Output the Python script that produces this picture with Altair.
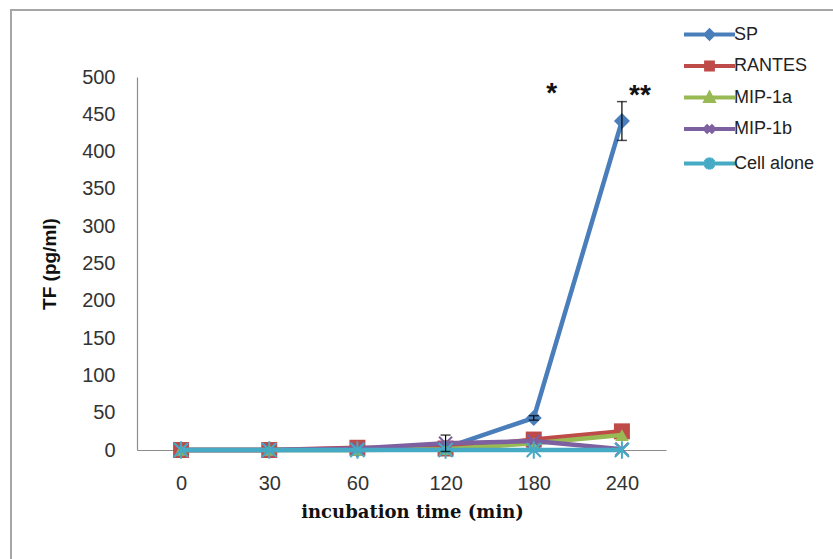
import altair as alt
import pandas as pd

# ---- data ----
times = ["0", "30", "60", "120", "180", "240"]
series = ["SP", "RANTES", "MIP-1a", "MIP-1b", "Cell alone"]
sp = [0, 0, 0, 3, 43, 441]
rantes = [0, 0, 3, 2, 14, 25]
mip1a = [0, 0, 0, 1, 9, 20]
mip1b = [0, 0, 2, 9, 12, 1]
cell = [0, 0, 0, 0, 0, 0]

err_series = ["SP", "SP", "MIP-1b"]
err_time = ["180", "240", "120"]
err_value = [43, 441, 9]
err_size = [3, 26, 11]

ann_text = ["*", "**"]
ann_time = ["180", "240"]
ann_value = [482, 480]

y_ticks = list(range(0, 501, 50))

# ---- styles ----
colors = ["#4A7EBB", "#BE4B48", "#98B954", "#7D60A0", "#46AAC5"]
X_PATH = "M-1,-1L1,1M1,-1L-1,1"
STAR_PATH = "M-1,-1L1,1M1,-1L-1,1M0,-1.25L0,1.25"
marker_style = [
    dict(shape="diamond", filled=True, size=256, strokeWidth=0),
    dict(shape="square", filled=True, size=256, strokeWidth=0),
    dict(shape="triangle-up", filled=True, size=180, strokeWidth=0),
    dict(shape=X_PATH, filled=False, size=170, strokeWidth=2),
    dict(shape=STAR_PATH, filled=False, size=200, strokeWidth=2),
]
L = "M-3,0L3,0"
legend_paths = [
    L + "M0,-0.45L0.45,0L0,0.45L-0.45,0Z",
    L + "M-0.4,-0.4L0.4,-0.4L0.4,0.4L-0.4,0.4Z",
    L + "M0,-0.45L0.45,0.4L-0.45,0.4Z",
    L + "M-0.45,-0.45L0.45,0.45M0.45,-0.45L-0.45,0.45",
    L + "M-0.5,-0.5L0.5,0.5M0.5,-0.5L-0.5,0.5M0,-0.7L0,0.7",
]

# ---- tables ----
vals = [sp, rantes, mip1a, mip1b, cell]
rows = []
for s, v in zip(series, vals):
    for t, y in zip(times, v):
        rows.append({"series": s, "time": t, "value": y})
df = pd.DataFrame(rows)

err_df = pd.DataFrame({
    "series": err_series, "time": err_time,
    "lo": [v - e for v, e in zip(err_value, err_size)],
    "hi": [v + e for v, e in zip(err_value, err_size)],
})
ann_df = pd.DataFrame({"text": ann_text, "time": ann_time, "value": ann_value})

W, H = 529, 373
PL, PT, PR, PB = 137, 77, 167, 109

FONT = "Liberation Sans"

x_axis = alt.Axis(title="incubation time (min)", labelAngle=0, ticks=False,
                  domainColor="#8c8c8c", domainWidth=1.2,
                  labelFont=FONT, labelFontSize=20, labelColor="#333333",
                  labelPadding=23,
                  titleFont="DejaVu Serif", titleFontSize=18, titleFontWeight="bold",
                  titleColor="#111111", titlePadding=10,
                  titleX=275, titleAlign="center")
y_axis = alt.Axis(title="TF (pg/ml)", values=y_ticks, grid=False, ticks=False,
                  domainColor="#8c8c8c", domainWidth=1.2,
                  labelFont=FONT, labelFontSize=20, labelColor="#333333",
                  labelPadding=22,
                  titleFont=FONT, titleFontSize=19, titleFontWeight="bold",
                  titleColor="#111111", titlePadding=22)

x_scale = alt.Scale(type="point", domain=times, padding=0.5)
y_scale = alt.Scale(domain=[0, 500], nice=False)


def X():
    return alt.X("time:O", scale=x_scale, axis=x_axis, title="incubation time (min)")


def Y(field):
    return alt.Y(f"{field}:Q", scale=y_scale, axis=y_axis, title="TF (pg/ml)")


layers = []

frame = alt.Chart(pd.DataFrame({"a": [0]})).mark_rect(
    fillOpacity=0, stroke="#a6a6a6", strokeWidth=2
).encode(
    x=alt.value(11 - PL), x2=alt.value(W + PR + 20),
    y=alt.value(10 - PT), y2=alt.value(H + PB + 20),
)
layers.append(frame)

for s, c, m in zip(series, colors, marker_style):
    base = alt.Chart(df).transform_filter(alt.datum.series == s)
    layers.append(base.mark_line(color=c, strokeWidth=4.5).encode(x=X(), y=Y("value")))
    layers.append(base.mark_point(color=c, opacity=1, **m).encode(x=X(), y=Y("value")))

eb = alt.Chart(err_df)
layers.append(eb.mark_rule(color="black", strokeWidth=1.2).encode(x=X(), y=Y("lo"), y2="hi:Q"))
layers.append(eb.mark_tick(color="black", size=10, thickness=1.5).encode(x=X(), y=Y("lo")))
layers.append(eb.mark_tick(color="black", size=10, thickness=1.5).encode(x=X(), y=Y("hi")))

layers.append(alt.Chart(ann_df).mark_text(
    font=FONT, fontSize=28, fontWeight="bold", color="#111111", dx=18, dy=4
).encode(x=X(), y=Y("value"), text="text:N"))

leg_props = dict(title=None, orient="none", legendX=562, legendY=-53,
                 symbolSize=289, symbolStrokeWidth=4, symbolOpacity=1,
                 labelOffset=14, rowPadding=7.5, padding=0,
                 labelFont=FONT, labelFontSize=18, labelColor="#222222")
legend_layer = alt.Chart(df).transform_filter("false").mark_point(
    filled=False, size=289, strokeWidth=4, opacity=1
).encode(
    x=X(), y=Y("value"),
    color=alt.Color("series:N", scale=alt.Scale(domain=series, range=colors),
                    legend=alt.Legend(**leg_props)),
    shape=alt.Shape("series:N", scale=alt.Scale(domain=series, range=legend_paths),
                    legend=alt.Legend(**leg_props)),
)
layers.append(legend_layer)

chart = alt.layer(*layers).properties(
    width=W, height=H,
    padding={"left": PL, "top": PT, "right": PR, "bottom": PB},
    autosize="none", background="white",
).configure_view(stroke="transparent")

chart.save("out.html", embed_options={"renderer": "svg", "actions": False})
